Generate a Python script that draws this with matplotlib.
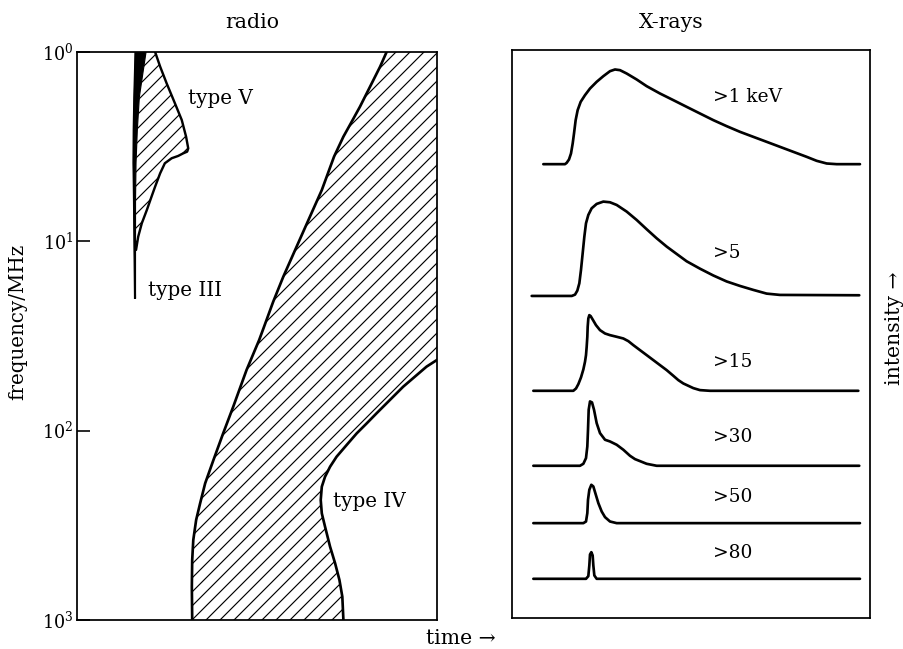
import matplotlib
matplotlib.use("Agg")
import matplotlib.pyplot as plt

plt.rcParams['font.family'] = ['DejaVu Serif', 'DejaVu Sans']
plt.rcParams['mathtext.fontset'] = 'dejavuserif'
plt.rcParams['hatch.linewidth'] = 1.0

DPI = 84
W, H = 903, 649

# ---------------- radio panel data (time 0-100, frequency MHz) ----------------
freq_ticks = [1, 10, 100, 1000]

type3_left_t = [16.25, 15.92, 15.75, 15.69, 15.83, 15.97, 16.11]
type3_left_f = [1.0, 1.73, 2.58, 3.85, 6.05, 11.1, 19.9]
type3_right_t = [16.25, 16.25, 16.25, 16.39, 16.75, 17.31, 19.17]
type3_right_f = [19.9, 11.1, 6.05, 3.85, 2.58, 1.73, 1.0]

type5_edge_t = [21.7, 23.1, 24.9, 27.2, 29.1, 30.3, 30.9, 30.6, 29.5, 28.1, 26.3, 24.4, 23.1,
                21.7, 20.7, 19.4, 18.0, 17.0, 16.4]
type5_edge_f = [1.0, 1.195, 1.464, 1.866, 2.287, 2.80, 3.23, 3.36, 3.43, 3.54, 3.64, 3.87, 4.37,
                5.14, 5.81, 6.83, 8.03, 9.45, 11.1]
type5_inner_t = [16.25, 16.25, 16.39, 16.75, 17.31, 19.17]
type5_inner_f = [9.0, 6.05, 3.85, 2.58, 1.73, 1.0]

type4_left_t = [86.0, 84.2, 81.4, 78.6, 75.8, 74.0, 71.4, 68.0, 64.7, 61.0, 57.3, 54.5, 51.8,
                50.6, 47.1, 43.4, 40.6, 37.9, 35.6, 34.2, 33.1, 32.3, 32.0, 31.9, 32.0]
type4_left_f = [1.0, 1.195, 1.525, 1.945, 2.43, 2.80, 3.57, 5.36, 7.41, 10.67, 15.38, 20.84, 28.8,
                33.2, 47.8, 74.7, 103.3, 142.9, 189.7, 242, 296, 378, 482, 667, 1000]
type4_right_t = [74.0, 73.7, 72.9, 71.7, 70.3, 68.9, 68.0, 67.7, 68.0, 68.9, 70.3, 72.1, 74.9,
                 77.7, 80.5, 83.2, 86.9, 90.6, 94.4, 97.1, 100.0]
type4_right_f = [1000, 753, 615, 502, 410, 321.4, 273.3, 232.4, 197.7, 175.1, 155.0, 137.3, 119.0,
                 103.3, 91.4, 81.0, 68.9, 58.6, 50.8, 45.9, 42.3]

# ---------------- X-ray panel data (time 0-100, intensity 0-100) ----------------
xray_labels = ['>1 keV', '>5', '>15', '>30', '>50', '>80']
xray_baselines = [79.9, 56.7, 40.0, 26.8, 16.7, 6.9]
xray_label_y = [91.7, 64.3, 45.1, 31.9, 21.3, 11.4]

xray_t = [
    [8.75, 14.8, 15.27, 15.92, 16.48, 16.95, 17.32, 17.78, 18.34, 19.18, 20.39, 21.79, 23.65, 25.51,
     27.37, 28.77, 30.17, 32.03, 34.82, 37.62, 41.34, 45.07, 48.79, 52.51, 56.24, 59.96, 63.69,
     67.41, 71.14, 74.86, 78.58, 82.31, 85.1, 87.9, 90.69, 97.2],
    [5.5, 16.7, 17.6, 18.25, 18.81, 19.27, 19.74, 20.21, 20.67, 21.32, 22.25, 23.65, 25.51, 27.37,
     29.24, 32.03, 34.82, 37.62, 40.41, 43.2, 46.0, 48.79, 52.51, 56.24, 59.96, 63.69, 67.41, 71.14,
     74.86, 97.0],
    [5.96, 17.13, 17.88, 18.53, 19.27, 19.93, 20.39, 20.67, 20.86, 21.04, 21.14, 21.32, 21.6, 21.97,
     22.53, 23.46, 24.58, 25.98, 27.37, 29.24, 31.1, 32.5, 33.89, 35.75, 37.62, 39.48, 41.34, 43.2,
     45.07, 46.46, 47.86, 50.65, 52.51, 55.31, 96.74],
    [5.96, 18.99, 19.93, 20.67, 21.04, 21.23, 21.42, 21.79, 22.35, 22.91, 23.65, 24.58, 25.98,
     27.37, 29.24, 31.1, 32.96, 34.36, 35.75, 37.6, 40.41, 97.0],
    [5.96, 19.93, 20.67, 21.04, 21.23, 21.6, 22.16, 22.72, 23.28, 24.12, 25.05, 25.98, 27.37,
     29.24, 97.2],
    [5.96, 20.67, 21.32, 21.6, 21.79, 22.16, 22.53, 22.72, 23.0, 23.65, 97.2],
]
xray_h = [
    [0, 0, 0.23, 0.82, 1.88, 3.64, 5.4, 7.75, 9.51, 10.97, 12.15, 13.32, 14.5, 15.49, 16.37, 16.67,
     16.55, 15.96, 14.91, 13.73, 12.44, 11.27, 10.09, 8.92, 7.75, 6.69, 5.69, 4.81, 3.93, 3.05,
     2.17, 1.29, 0.59, 0.12, 0, 0],
    [0, 0, 0.23, 0.94, 2.23, 4.58, 7.51, 10.45, 12.79, 14.26, 15.43, 16.2, 16.61, 16.49, 16.02,
     14.85, 13.38, 11.74, 10.15, 8.69, 7.39, 6.1, 4.8, 3.6, 2.55, 1.76, 1.06, 0.41, 0.18, 0.12],
    [0, 0, 0.41, 1.17, 2.35, 3.76, 5.11, 6.28, 7.75, 9.51, 11.27, 12.73, 13.32, 13.15, 12.56,
     11.56, 10.68, 10.09, 9.8, 9.51, 9.21, 8.74, 8.04, 7.16, 6.28, 5.4, 4.52, 3.64, 2.64, 1.88,
     1.29, 0.47, 0.12, 0, 0],
    [0, 0, 0.35, 1.35, 3.4, 6.34, 9.86, 11.33, 11.15, 9.86, 7.51, 5.75, 4.58, 4.28, 3.7, 2.82,
     1.76, 1.17, 0.82, 0.35, 0, 0],
    [0, 0, 0.29, 1.76, 4.11, 5.87, 6.75, 6.46, 5.28, 3.52, 2.05, 1.06, 0.29, 0, 0],
    [0, 0, 0.47, 2.35, 4.28, 4.69, 4.11, 2.35, 0.59, 0, 0],
]

fig = plt.figure(figsize=(W / DPI, H / DPI), dpi=DPI)

def px_axes(x0, y0, x1, y1):
    return fig.add_axes([x0 / W, 1 - y1 / H, (x1 - x0) / W, (y1 - y0) / H])

FS = 16
LW = 2.3

# ---------------- radio ----------------
ax = px_axes(77, 52, 437, 620)
ax.set_yscale('log')
ax.set_xlim(0, 100)
ax.set_ylim(1000, 1)

# type V hatched region
t5 = type5_edge_t + type5_inner_t
f5 = type5_edge_f + type5_inner_f
ax.fill(t5, f5, facecolor='none', edgecolor='black', hatch='//', linewidth=0)
ax.plot(type5_edge_t, type5_edge_f, color='black', lw=LW * 0.9,
        solid_capstyle='round', solid_joinstyle='round')

# type III burst (black sliver + line)
ax.fill(type3_left_t + type3_right_t, type3_left_f + type3_right_f, color='black', lw=1.0)
ax.plot(type3_left_t, type3_left_f, color='black', lw=LW * 0.8, solid_joinstyle='round')

# type IV hatched region
t4 = type4_left_t + type4_right_t + [100.0]
f4 = type4_left_f + type4_right_f + [1.0]
ax.fill(t4, f4, facecolor='none', edgecolor='black', hatch='//', linewidth=0)
ax.plot(type4_left_t, type4_left_f, color='black', lw=LW, solid_joinstyle='round')
ax.plot(type4_right_t, type4_right_f, color='black', lw=LW, solid_joinstyle='round')

ax.text(30.8, 1.75, 'type V', fontsize=17, va='center', ha='left')
ax.text(19.7, 18.1, 'type III', fontsize=17, va='center', ha='left')
ax.text(71.1, 238, 'type IV', fontsize=17, va='center', ha='left')

ax.set_yticks(freq_ticks)
ax.set_yticklabels([r'$10^{%d}$' % i for i in range(len(freq_ticks))])
ax.minorticks_off()
ax.tick_params(axis='y', direction='in', length=11, width=1.4, labelsize=15, pad=3)
ax.set_xticks([])
for s in ax.spines.values():
    s.set_linewidth(1.5)

# ---------------- X-rays ----------------
bx = px_axes(512, 50, 870, 618)
bx.set_xlim(0, 100)
bx.set_ylim(0, 100)
for t, h, b in zip(xray_t, xray_h, xray_baselines):
    bx.plot(t, [b + v for v in h], color='black', lw=LW, solid_joinstyle='round',
            solid_capstyle='round')
for lab, y in zip(xray_labels, xray_label_y):
    bx.text(56.2, y, lab, fontsize=FS, va='center', ha='left')
bx.set_xticks([])
bx.set_yticks([])
for s in bx.spines.values():
    s.set_linewidth(1.5)

# ---------------- labels ----------------
fig.text(252 / W, 1 - 28 / H, 'radio', fontsize=17.5, ha='center', va='baseline')
fig.text(671 / W, 1 - 28 / H, 'X-rays', fontsize=17.5, ha='center', va='baseline')
fig.text(18 / W, 1 - 322 / H, 'frequency/MHz', fontsize=17, rotation=90, ha='center', va='center')
fig.text(461 / W, 1 - 638 / H, 'time →', fontsize=17.5, ha='center', va='center')
fig.text(895 / W, 1 - 328 / H, 'intensity →', fontsize=17.5, rotation=90, ha='center', va='center')

fig.savefig('out.png', dpi=DPI)
